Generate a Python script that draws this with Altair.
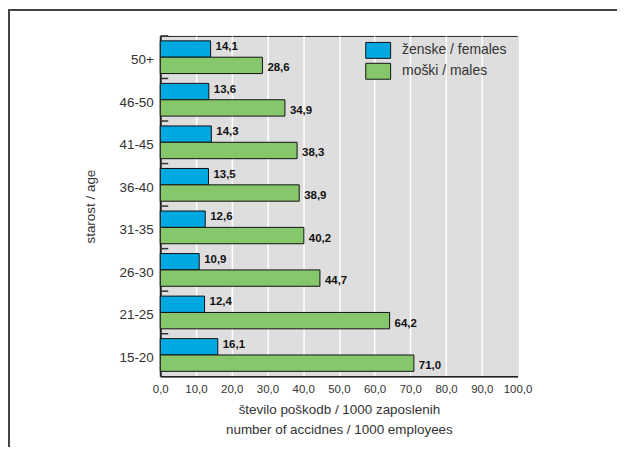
import altair as alt
import pandas as pd

ages = ["50+", "46-50", "41-45", "36-40", "31-35", "26-30", "21-25", "15-20"]
females = [14.1, 13.6, 14.3, 13.5, 12.6, 10.9, 12.4, 16.1]
males = [28.6, 34.9, 38.3, 38.9, 40.2, 44.7, 64.2, 71.0]
sexes = ["ženske / females", "moški / males"]
colors = ["#00A8E1", "#86C76C"]
x_ticks = [0, 10, 20, 30, 40, 50, 60, 70, 80, 90, 100]

rows = []
for a, f, m in zip(ages, females, males):
    rows.append({"age": a, "sex": sexes[0], "value": f, "label": f"{f:.1f}".replace(".", ",")})
    rows.append({"age": a, "sex": sexes[1], "value": m, "label": f"{m:.1f}".replace(".", ",")})
df = pd.DataFrame(rows)
ages_df = pd.DataFrame({"age": ages})

FONT = "Liberation Sans"

y_axis = alt.Axis(
    title="starost / age",
    titleFontSize=13.5,
    titleFontWeight="normal",
    titleColor="#333",
    titleFont=FONT,
    titlePadding=22,
    labelFontSize=13.5,
    labelColor="#333",
    labelFont=FONT,
    labelPadding=7,
    labelOffset=3,
    ticks=False,
    domainColor="#222",
    domainWidth=2,
)
y_scale = alt.Scale(paddingInner=0, paddingOuter=0)
y_enc = alt.Y("age:N", sort=ages, scale=y_scale, axis=y_axis)
yoff_enc = alt.YOffset(
    "sex:N", sort=sexes, scale=alt.Scale(paddingOuter=0.3, paddingInner=0)
)
x_enc = alt.X(
    "value:Q",
    scale=alt.Scale(domain=[0, 100], nice=False),
    axis=alt.Axis(
        values=x_ticks,
        tickCount=11,
        labelExpr="replace(format(datum.value, '.1f'), '.', ',')",
        labelOverlap=False,
        labelFlush=False,
        title=["število poškodb / 1000 zaposlenih", "number of accidnes / 1000 employees"],
        titleFontSize=13.5,
        titleFontWeight="normal",
        titleColor="#333",
        titleFont=FONT,
        titleLineHeight=20,
        titlePadding=8,
        labelFontSize=11.5,
        labelColor="#333",
        labelFont=FONT,
        labelPadding=7,
        ticks=False,
        grid=True,
        gridColor="white",
        gridWidth=1.5,
        domainColor="#222",
        domainWidth=1.5,
    ),
)

bars = alt.Chart(df).mark_bar(stroke="#111", strokeWidth=1).encode(
    x=x_enc,
    y=y_enc,
    yOffset=yoff_enc,
    color=alt.Color(
        "sex:N",
        sort=sexes,
        scale=alt.Scale(domain=sexes, range=colors),
        legend=alt.Legend(
            title=None,
            orient="none",
            legendX=210.5,
            legendY=6,
            symbolType="M-1.5625,-1H1.5625V1H-1.5625Z",
            symbolSize=256,
            symbolStrokeColor="#111",
            symbolStrokeWidth=1,
            symbolOpacity=1,
            labelFontSize=14,
            labelFont=FONT,
            labelColor="#333",
            labelOffset=15.5,
            rowPadding=0,
            padding=0,
        ),
    ),
)

text_f = alt.Chart(df).transform_filter(alt.datum.sex == sexes[0]).mark_text(
    align="left", baseline="middle", dx=5, dy=-2, fontSize=11.5, fontWeight="bold", font=FONT, color="#111"
).encode(x=x_enc, y=y_enc, yOffset=yoff_enc, text="label:N")

text_m = alt.Chart(df).transform_filter(alt.datum.sex == sexes[1]).mark_text(
    align="left", baseline="middle", dx=5, dy=3, fontSize=11.5, fontWeight="bold", font=FONT, color="#111"
).encode(x=x_enc, y=y_enc, yOffset=yoff_enc, text="label:N")

ticks = alt.Chart(ages_df).mark_rule(color="#333", strokeWidth=1.5).encode(
    y=alt.Y("age:N", sort=ages, bandPosition=0, scale=y_scale, axis=y_axis),
    x=alt.value(0),
    x2=alt.value(8),
)

frame = alt.Chart(ages_df.head(1)).mark_rect(
    fill=None, stroke="#444", strokeWidth=2, clip=False
).encode(
    x=alt.value(-152), x2=alt.value(700), y=alt.value(-26), y2=alt.value(600)
)

chart = (
    alt.layer(bars, text_f, text_m, ticks, frame)
    .properties(
        width=359,
        height=342,
        autosize=alt.AutoSizeParams(type="none"),
        padding={"left": 153, "top": 27, "right": 100, "bottom": 70},
        background="white",
    )
    .configure_view(fill="#DEDEDE", stroke="#222", strokeWidth=1)
)

chart.save("out.html", embed_options={"renderer": "svg", "actions": False})
